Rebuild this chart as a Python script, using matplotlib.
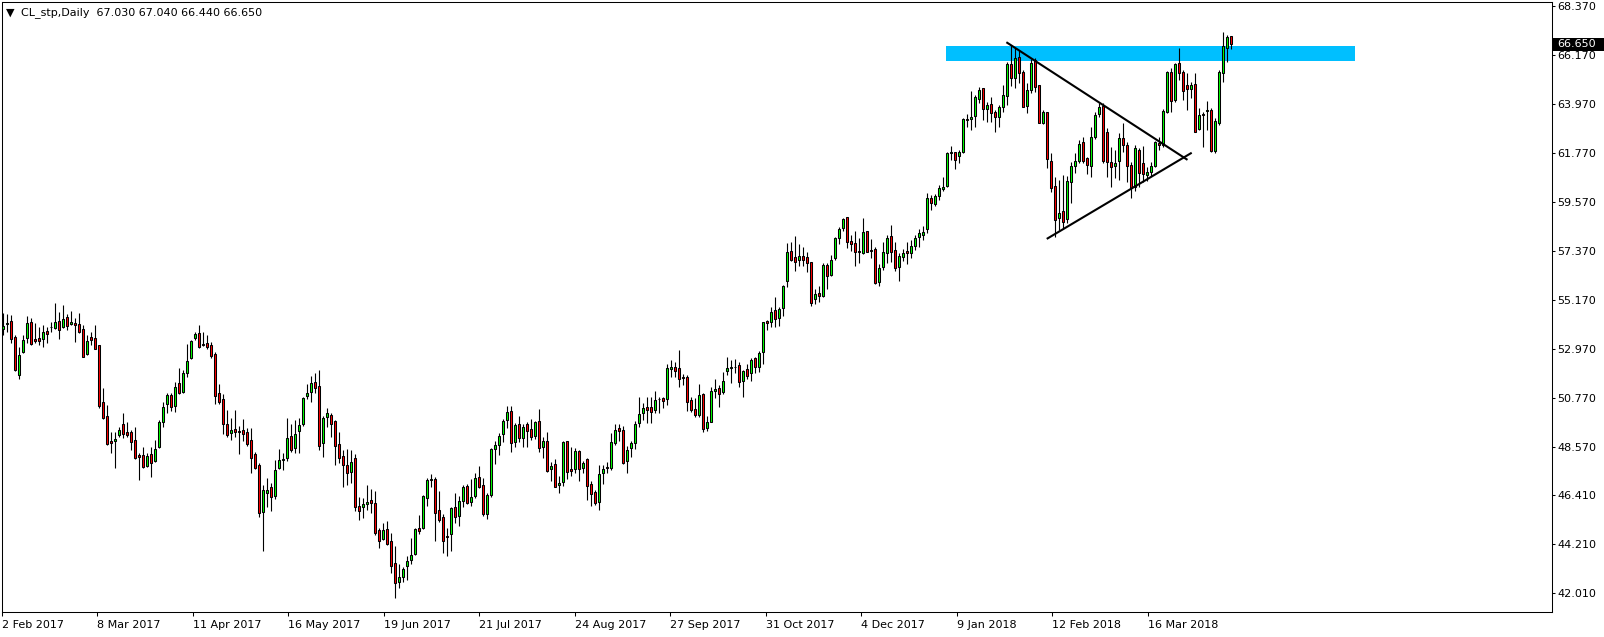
import matplotlib
matplotlib.use("Agg")
import matplotlib.pyplot as plt
import matplotlib.transforms as mtransforms
from matplotlib.patches import Rectangle
import numpy as np

# daily OHLC, first bar = 2 Feb 2017
opens = [
    53.86, 54.08, 54.23, 53.50, 51.79, 52.82, 53.45, 54.17, 53.42, 53.45,
    53.41, 53.78, 53.98, 53.93, 54.25, 53.95, 54.39, 54.08, 54.13, 54.10,
    53.86, 52.73, 53.50, 53.45, 53.15, 50.58, 49.97, 48.83, 48.86, 49.10,
    49.59, 49.23, 49.23, 48.89, 48.21, 48.21, 47.73, 48.26, 47.96, 48.56,
    49.71, 50.49, 50.91, 50.43, 51.43, 51.06, 51.92, 52.55, 53.45, 53.70,
    53.20, 53.26, 53.15, 52.75, 50.98, 50.73, 49.63, 49.22, 49.37, 49.28,
    49.32, 49.23, 48.89, 48.24, 47.77, 45.67, 46.53, 46.76, 46.39, 47.62,
    48.00, 48.06, 49.07, 48.51, 49.29, 49.63, 50.88, 51.06, 51.49, 51.31,
    48.77, 49.93, 50.01, 49.74, 48.71, 48.18, 47.77, 47.47, 48.06, 45.94,
    45.87, 46.00, 46.20, 46.05, 44.85, 44.45, 44.88, 44.36, 43.35, 42.53,
    42.76, 43.25, 43.50, 43.76, 44.93, 44.93, 46.27, 47.09, 47.14, 45.75,
    45.45, 44.60, 44.66, 45.90, 45.49, 46.17, 46.83, 46.12, 46.39, 47.21,
    46.87, 45.57, 46.42, 48.47, 48.66, 49.16, 49.81, 50.19, 48.81, 49.59,
    48.96, 49.59, 49.38, 49.07, 49.74, 48.56, 48.84, 47.57, 47.81, 46.87,
    46.99, 48.84, 47.58, 47.58, 48.39, 47.64, 48.03, 46.91, 46.54, 46.12,
    47.42, 47.66, 47.65, 48.74, 49.45, 49.34, 47.97, 48.52, 48.74, 49.67,
    50.12, 50.36, 50.36, 50.24, 50.72, 50.78, 50.72, 52.08, 52.15, 52.11,
    51.72, 51.71, 50.69, 50.28, 49.99, 50.96, 49.45, 49.72, 51.11, 51.21,
    51.03, 52.00, 52.10, 52.15, 52.25, 51.55, 52.06, 51.88, 52.55, 52.18,
    52.82, 54.23, 54.17, 54.72, 54.35, 54.80, 56.04, 57.37, 57.09, 56.99,
    57.15, 57.09, 56.89, 55.20, 55.50, 55.35, 56.74, 56.29, 57.07, 57.94,
    58.39, 58.88, 57.84, 57.72, 57.37, 57.27, 58.27, 57.42, 57.45, 56.00,
    56.64, 57.27, 58.05, 57.40, 56.64, 57.12, 57.37, 57.27, 57.61, 57.99,
    58.09, 58.35, 59.74, 59.48, 59.86, 60.14, 60.31, 61.79, 61.83, 61.64,
    61.83, 63.29, 63.28, 63.45, 64.19, 64.67, 63.75, 63.97, 63.62, 63.40,
    63.82, 64.33, 65.76, 65.12, 66.09, 65.42, 63.89, 64.60, 65.94, 64.82,
    63.10, 63.62, 61.43, 60.29, 58.84, 59.17, 58.79, 60.48, 61.19, 61.41,
    62.25, 61.53, 61.20, 62.50, 63.51, 63.88, 62.70, 61.38, 61.20, 61.41,
    62.43, 62.13, 61.23, 60.26, 61.90, 61.31, 60.78, 60.93, 61.20, 62.23,
    62.13, 63.60, 65.42, 64.15, 65.83, 65.39, 64.82, 64.64, 64.87, 62.83,
    63.52, 63.67, 63.70, 61.86, 63.10, 65.35, 66.47, 67.03,
]
highs = [
    54.60, 54.53, 54.50, 53.60, 53.08, 53.60, 54.45, 54.35, 54.16, 53.95,
    54.05, 53.98, 54.20, 55.02, 54.62, 54.95, 54.54, 54.68, 54.35, 54.59,
    54.05, 53.60, 53.75, 54.05, 53.15, 51.21, 50.46, 49.26, 49.26, 49.49,
    50.09, 49.68, 49.34, 49.49, 48.32, 48.59, 48.29, 48.59, 48.89, 49.78,
    50.61, 51.01, 50.98, 51.49, 52.10, 52.03, 53.20, 53.40, 53.75, 54.05,
    53.75, 53.60, 53.30, 52.85, 51.40, 50.95, 50.23, 49.86, 50.23, 49.52,
    49.83, 49.41, 49.44, 48.36, 47.88, 46.87, 47.17, 46.97, 47.99, 48.48,
    48.29, 49.89, 49.59, 49.78, 49.89, 50.83, 51.40, 51.76, 51.91, 52.03,
    49.98, 50.34, 50.11, 49.81, 49.26, 48.44, 48.48, 48.44, 48.26, 46.34,
    46.27, 46.87, 46.69, 46.60, 44.92, 45.15, 45.25, 44.70, 44.13, 43.33,
    43.21, 43.68, 44.51, 44.95, 45.52, 46.42, 47.17, 47.36, 47.24, 46.60,
    45.57, 44.95, 45.90, 46.53, 46.38, 46.87, 46.90, 47.12, 47.39, 47.72,
    47.17, 46.50, 48.51, 48.84, 49.21, 49.83, 50.43, 50.43, 49.66, 49.98,
    49.63, 49.68, 49.83, 49.75, 50.28, 49.03, 49.23, 47.91, 48.03, 47.27,
    48.86, 48.84, 48.59, 48.51, 48.44, 47.94, 48.09, 47.05, 46.64, 47.76,
    47.76, 47.91, 49.22, 49.61, 49.61, 49.52, 48.62, 48.85, 49.75, 50.84,
    50.54, 50.84, 50.84, 51.11, 50.84, 50.84, 52.30, 52.48, 52.41, 52.93,
    51.86, 51.81, 50.84, 50.76, 51.41, 50.99, 49.97, 51.26, 51.63, 51.36,
    51.96, 52.60, 52.48, 52.52, 52.40, 52.03, 52.30, 52.58, 52.63, 52.90,
    54.20, 54.27, 54.87, 55.29, 54.84, 55.84, 57.74, 57.79, 58.04, 57.68,
    57.56, 57.34, 56.89, 55.69, 55.80, 56.82, 56.82, 57.19, 58.01, 58.46,
    58.84, 58.91, 58.09, 58.27, 57.94, 58.87, 58.27, 57.91, 57.57, 56.79,
    57.76, 58.09, 58.54, 57.76, 57.27, 57.46, 57.76, 57.87, 58.09, 58.35,
    58.50, 59.96, 59.89, 59.93, 60.34, 60.68, 61.83, 62.09, 61.83, 61.91,
    63.33, 63.52, 64.55, 64.37, 64.72, 64.67, 64.07, 64.30, 63.70, 63.92,
    64.82, 65.87, 66.62, 66.47, 66.39, 65.50, 64.90, 65.97, 66.02, 64.82,
    63.70, 63.62, 61.78, 60.71, 60.56, 60.78, 60.75, 61.38, 61.75, 62.35,
    62.47, 61.60, 62.95, 63.63, 64.00, 64.00, 62.88, 62.05, 61.90, 62.65,
    63.10, 62.28, 61.38, 62.13, 61.98, 62.09, 61.16, 61.38, 62.32, 62.50,
    63.73, 65.47, 65.57, 65.83, 66.47, 65.50, 65.35, 64.97, 65.35, 63.78,
    63.63, 64.11, 63.78, 63.33, 65.50, 67.22, 67.07, 67.04,
]
lows = [
    53.60, 53.75, 53.26, 52.00, 51.64, 52.78, 53.23, 53.15, 53.26, 53.15,
    53.08, 53.26, 53.75, 53.86, 53.41, 53.90, 53.83, 54.04, 53.30, 53.70,
    52.60, 52.70, 53.15, 52.96, 50.31, 49.82, 48.67, 48.32, 47.62, 49.04,
    48.96, 49.04, 48.44, 48.02, 47.09, 47.62, 47.66, 47.21, 47.91, 48.51,
    49.46, 50.08, 50.19, 50.13, 50.95, 51.01, 51.70, 52.51, 53.37, 53.00,
    53.11, 52.96, 52.55, 50.49, 50.50, 49.16, 49.04, 48.89, 49.04, 48.26,
    48.86, 48.62, 47.42, 47.59, 45.45, 43.92, 45.89, 45.72, 46.22, 47.57,
    47.54, 47.96, 48.36, 48.29, 48.32, 49.53, 50.71, 50.58, 51.01, 48.44,
    48.14, 49.48, 49.04, 47.79, 47.88, 46.79, 46.87, 46.97, 45.72, 45.30,
    45.37, 45.75, 45.63, 44.63, 44.06, 44.40, 44.18, 42.91, 41.80, 42.23,
    42.53, 42.61, 43.32, 43.73, 44.67, 44.90, 45.94, 46.79, 44.36, 45.22,
    43.83, 43.68, 43.92, 45.18, 45.05, 45.90, 46.02, 45.94, 46.27, 46.75,
    45.49, 45.34, 46.34, 47.81, 48.21, 48.81, 49.41, 48.36, 48.56, 48.81,
    48.56, 48.56, 48.89, 48.92, 48.36, 48.06, 47.46, 47.06, 46.76, 46.52,
    46.82, 47.12, 47.27, 47.42, 47.06, 47.39, 46.19, 45.92, 45.97, 45.74,
    46.91, 47.39, 47.55, 48.67, 48.86, 47.80, 47.43, 48.11, 48.49, 49.49,
    49.79, 49.67, 49.67, 50.09, 50.09, 50.34, 50.46, 51.74, 51.74, 51.29,
    51.36, 50.19, 50.16, 49.94, 49.91, 49.27, 49.31, 49.69, 50.76, 50.39,
    50.96, 51.81, 51.43, 51.88, 51.25, 50.83, 51.65, 51.55, 51.92, 51.95,
    52.28, 53.82, 53.97, 53.94, 54.02, 54.45, 55.74, 56.94, 56.47, 56.70,
    56.70, 56.44, 54.90, 54.99, 55.10, 55.29, 55.66, 56.25, 56.97, 57.71,
    58.28, 57.49, 57.39, 56.72, 56.82, 57.22, 57.31, 57.05, 55.88, 55.82,
    56.52, 56.82, 56.90, 56.49, 56.04, 56.93, 56.79, 57.08, 57.42, 57.57,
    57.87, 58.17, 59.21, 59.41, 59.66, 60.08, 60.26, 61.46, 61.04, 61.31,
    61.79, 62.93, 62.80, 62.92, 64.00, 63.25, 63.18, 63.18, 62.73, 62.95,
    63.62, 63.92, 64.78, 64.67, 64.93, 63.82, 63.55, 64.45, 64.52, 63.10,
    63.06, 61.08, 60.03, 58.00, 58.31, 58.39, 58.61, 59.55, 60.89, 61.33,
    61.33, 60.83, 60.71, 62.38, 63.40, 61.31, 60.71, 60.26, 60.63, 60.56,
    61.83, 60.48, 59.74, 60.08, 60.26, 60.48, 60.53, 60.75, 61.16, 61.90,
    62.05, 63.55, 63.63, 64.07, 65.05, 64.15, 63.70, 64.22, 62.73, 62.80,
    62.03, 62.80, 61.80, 61.78, 63.03, 64.97, 65.87, 66.44,
]
closes = [
    54.01, 54.15, 53.41, 52.03, 52.69, 53.38, 54.13, 53.18, 53.35, 53.32,
    53.72, 53.63, 53.95, 54.17, 53.83, 54.31, 54.02, 54.17, 54.04, 53.72,
    52.63, 53.33, 53.36, 52.99, 50.43, 49.86, 48.70, 48.77, 48.92, 49.32,
    49.16, 49.13, 48.81, 48.09, 48.11, 47.66, 48.17, 47.87, 48.47, 49.68,
    50.38, 50.91, 50.38, 51.25, 50.98, 51.88, 52.42, 53.32, 53.64, 53.05,
    53.15, 53.05, 52.66, 50.88, 50.61, 49.59, 49.11, 49.33, 49.23, 49.25,
    49.14, 48.71, 48.06, 47.62, 45.60, 46.64, 46.64, 46.31, 47.54, 47.99,
    48.04, 48.99, 48.44, 49.16, 49.56, 50.79, 51.00, 51.43, 51.24, 48.63,
    49.89, 50.08, 49.63, 48.63, 48.06, 47.79, 47.39, 47.91, 45.87, 45.72,
    46.00, 46.12, 46.05, 44.73, 44.37, 44.85, 44.22, 43.25, 42.46, 42.73,
    43.09, 43.46, 43.73, 44.90, 44.82, 46.38, 47.09, 47.14, 45.63, 45.30,
    44.37, 44.55, 45.85, 45.45, 46.15, 46.79, 46.05, 46.35, 47.17, 46.80,
    45.57, 46.42, 48.47, 48.66, 49.07, 49.74, 50.13, 48.74, 49.56, 48.96,
    49.48, 49.31, 49.01, 49.68, 48.51, 48.84, 47.51, 47.72, 46.79, 46.94,
    48.78, 47.46, 47.51, 48.39, 47.57, 47.87, 46.84, 46.45, 46.07, 47.35,
    47.58, 47.64, 48.79, 49.34, 49.31, 47.88, 48.44, 48.74, 49.60, 50.05,
    50.31, 50.24, 50.16, 50.69, 50.75, 50.66, 52.11, 52.15, 52.00, 51.62,
    51.66, 50.61, 50.24, 50.02, 50.91, 49.37, 49.69, 51.09, 51.18, 50.94,
    51.56, 52.11, 52.18, 52.18, 51.51, 51.98, 51.77, 52.48, 52.15, 52.78,
    54.17, 54.12, 54.62, 54.30, 54.77, 55.80, 57.31, 56.97, 56.89, 57.15,
    56.97, 56.82, 55.05, 55.43, 55.37, 56.74, 56.25, 56.99, 57.94, 58.34,
    58.79, 57.79, 57.69, 57.32, 57.34, 58.21, 57.34, 57.39, 55.92, 56.60,
    57.32, 57.94, 57.34, 56.60, 57.15, 57.27, 57.27, 57.60, 57.94, 58.20,
    58.24, 59.74, 59.51, 59.84, 60.22, 60.26, 61.76, 61.83, 61.46, 61.83,
    63.28, 63.27, 63.37, 64.27, 64.60, 63.73, 63.92, 63.59, 63.37, 63.82,
    64.37, 65.76, 65.12, 66.02, 65.38, 63.85, 64.60, 65.79, 64.75, 63.13,
    63.62, 61.49, 60.18, 58.76, 59.09, 58.69, 60.51, 61.19, 61.41, 62.16,
    61.43, 61.23, 62.47, 63.48, 63.82, 61.41, 61.38, 61.13, 61.31, 62.43,
    62.13, 61.19, 60.18, 61.98, 60.86, 60.83, 60.90, 61.20, 62.25, 62.13,
    63.66, 65.42, 64.10, 65.77, 65.35, 64.57, 64.64, 64.82, 62.73, 63.48,
    63.48, 63.70, 61.88, 63.21, 65.42, 66.57, 66.99, 66.65,
]

date_labels = ["2 Feb 2017", "8 Mar 2017", "11 Apr 2017", "16 May 2017",
               "19 Jun 2017", "21 Jul 2017", "24 Aug 2017", "27 Sep 2017",
               "31 Oct 2017", "4 Dec 2017", "9 Jan 2018", "12 Feb 2018",
               "16 Mar 2018"]
price_ticks = [68.370, 66.170, 63.970, 61.770, 59.570, 57.370, 55.170,
               52.970, 50.770, 48.570, 46.410, 44.210, 42.010]

# resistance zone (bar index range, price range)
zone_bars = (235.75, 338.0)
zone_prices = (65.91, 66.58)
# triangle trend lines: (bar index pair, price pair)
upper_line = ([251.0, 295.85], [66.72, 61.49])
lower_line = ([261.1, 296.9], [57.94, 61.76])

title = "CL_stp,Daily  67.030 67.040 66.440 66.650"
last_price = 66.650


def draw_candles(ax, o, h, l, c):
    o, h, l, c = map(np.asarray, (o, h, l, c))
    x = np.arange(len(o))
    up = c >= o
    ax.vlines(x, l, h, color="black", linewidth=0.8, zorder=3)
    body_lo = np.minimum(o, c)
    body_h = np.maximum(np.abs(c - o), 0.02)
    colors = np.where(up, "#00ff00", "#ff0000")
    ax.bar(x, body_h, bottom=body_lo, width=0.5, color=colors,
           edgecolor="black", linewidth=0.75, zorder=4)


def main():
    fig = plt.figure(figsize=(16.04, 6.37), dpi=100)
    ax = fig.add_axes([2 / 1604, 25 / 637, 1550 / 1604, 610 / 637])

    zone = Rectangle((zone_bars[0], zone_prices[0]), zone_bars[1] - zone_bars[0],
                     zone_prices[1] - zone_prices[0], facecolor="#00bfff",
                     edgecolor="none", zorder=1)
    ax.add_patch(zone)

    draw_candles(ax, opens, highs, lows, closes)

    ax.plot(*upper_line, color="black", linewidth=1.5, zorder=5)
    ax.plot(*lower_line, color="black", linewidth=1.5, zorder=5)

    ax.set_xlim(-0.325, 387.2)
    ax.set_ylim(41.17, 68.55)

    ax.yaxis.tick_right()
    ax.set_yticks(price_ticks)
    ax.set_yticklabels(["%.3f" % p for p in price_ticks])
    ax.tick_params(axis="y", direction="out", length=2.5, width=0.75, pad=1.2,
                   labelsize=8)

    # the terminal puts time labels every ~95.5 px, i.e. ~23.9 bars
    ax.set_xticks(np.arange(len(date_labels)) * 23.875 - 0.33)
    ax.set_xticklabels(date_labels, ha="left")
    ax.tick_params(axis="x", direction="out", length=3, width=0.75, pad=2.5,
                   labelsize=8)

    for s in ax.spines.values():
        s.set_color("black")
        s.set_linewidth(0.75)

    # current price tag on the price scale
    trans = mtransforms.blended_transform_factory(ax.transAxes, ax.transData)
    ax.add_patch(Rectangle((1.0005, last_price - 0.3), 52 / 1550, 0.6,
                           transform=trans, facecolor="black", edgecolor="none",
                           clip_on=False, zorder=6))
    ax.text(1.0 + 5 / 1550, last_price, "%.3f" % last_price, transform=trans,
            color="white", fontsize=8, ha="left", va="center", zorder=7)

    fig.text(6 / 1604, 1 - 12.5 / 637, "\u25bc", fontsize=8, va="center")
    fig.text(21 / 1604, 1 - 12.5 / 637, title, fontsize=8, va="center")

    fig.savefig("out.png", dpi=100)


if __name__ == "__main__":
    main()
